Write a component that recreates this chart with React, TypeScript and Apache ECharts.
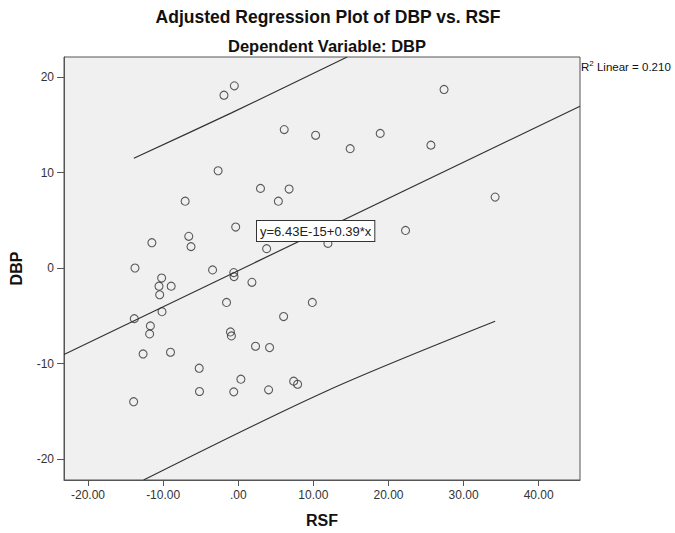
import React, { useEffect, useRef } from "react";
import * as echarts from "echarts";

// RSF (x) and DBP (y) values of the scatter points
const rsfValues = [
  -1.9, -0.52, 6.12, 10.3, -2.68, 2.96, 6.77, 5.34, -7.07, -0.34, -6.59, -6.29, -11.5, 3.78, -13.75, -3.42,
  27.4, 18.9, 14.9, 25.65, 34.2, 22.27, 11.94,
  -0.6, -0.56, -10.2, -10.55, -8.93, -10.46, 1.82, -1.56, 9.86, -10.15, -13.84, 6.04, -11.7, -11.8, -1.04, -0.91,
  -12.67, -9.02, 2.3, 4.17, -5.2, 0.35, 7.38, 7.9, -5.16, -0.6, 4.04, -13.93,
];
const dbpValues = [
  18.1, 19.08, 14.5, 13.9, 10.19, 8.34, 8.27, 7.0, 7.0, 4.29, 3.32, 2.24, 2.65, 2.03, 0.0, -0.2,
  18.7, 14.1, 12.5, 12.87, 7.43, 3.94, 2.58,
  -0.48, -0.9, -1.05, -1.9, -1.9, -2.8, -1.5, -3.6, -3.6, -4.57, -5.3, -5.08, -6.06, -6.9, -6.69, -7.11,
  -9.0, -8.82, -8.19, -8.33, -10.49, -11.64, -11.85, -12.17, -12.93, -12.97, -12.76, -14.0,
];

// Fit line and prediction interval curves
const fitLineX = [-23.2, 45.5];
const fitLineY = [-9.05, 16.95];
const upperX = [-13.9, -0.9, 14.5];
const upperY = [11.5, 16.25, 22.1];
const lowerX = [-12.6, 11.7, 34.2];
const lowerY = [-22.2, -12.9, -5.58];

const xTicks = [-20, -10, 0, 10, 20, 30, 40];
const yTicks = [-20, -10, 0, 10, 20];

const titleText = "Adjusted Regression Plot of DBP vs. RSF";
const subtitleText = "Dependent Variable: DBP";
const equationText = "y=6.43E-15+0.39*x";

const FONT = "Arial, 'Liberation Sans', sans-serif";
const INK = "#333333";

function zip(xs: number[], ys: number[]) {
  return xs.map((x, i) => [x, ys[i]]);
}

export default function App() {
  const ref = useRef<HTMLDivElement>(null);
  useEffect(() => {
    if (!ref.current) return;
    const chart = echarts.init(ref.current, null, { renderer: "svg" });
    const lineStyle = { color: INK, width: 1.2 };
    chart.setOption({
      animation: false,
      backgroundColor: "#ffffff",
      grid: {
        left: 52,
        right: 95,
        top: 57,
        bottom: 52,
        show: true,
        backgroundColor: "#f0f0f0",
        borderColor: "#555555",
        borderWidth: 1,
      },
      xAxis: {
        type: "value",
        min: -23.2,
        max: 45.5,
        name: "RSF",
        nameLocation: "middle",
        nameGap: 32,
        nameTextStyle: { fontFamily: FONT, fontWeight: "bold", fontSize: 16, color: "#111" },
        axisLine: { show: true, onZero: false, lineStyle: { color: "#555555" } },
        axisTick: { show: true, length: 6, customValues: xTicks, lineStyle: { color: "#555555" } },
        axisLabel: {
          customValues: xTicks,
          fontFamily: FONT,
          fontSize: 12,
          color: INK,
          margin: 9,
          formatter: (v: number) => (v === 0 ? ".00" : v.toFixed(2)),
        },
        splitLine: { show: false },
      },
      yAxis: {
        type: "value",
        min: -22.2,
        max: 22.1,
        name: "DBP",
        nameLocation: "middle",
        nameGap: 40,
        nameRotate: 90,
        nameTextStyle: { fontFamily: FONT, fontWeight: "bold", fontSize: 16, color: "#111" },
        axisLine: { show: true, onZero: false, lineStyle: { color: "#555555" } },
        axisTick: { show: true, length: 7, customValues: yTicks, lineStyle: { color: "#555555" } },
        axisLabel: {
          customValues: yTicks,
          fontFamily: FONT,
          fontSize: 12,
          color: INK,
          margin: 10,
        },
        splitLine: { show: false },
      },
      graphic: [
        {
          type: "text",
          x: 328,
          y: 8,
          style: {
            text: titleText,
            fontFamily: FONT,
            fontWeight: "bold",
            fontSize: 17.5,
            fill: "#111",
            textAlign: "center",
            textVerticalAlign: "top",
          },
        },
        {
          type: "text",
          x: 327,
          y: 37,
          style: {
            text: subtitleText,
            fontFamily: FONT,
            fontWeight: "bold",
            fontSize: 16.5,
            fill: "#111",
            textAlign: "center",
            textVerticalAlign: "top",
          },
        },
        {
          type: "text",
          left: 581,
          top: 59,
          style: {
            text: "{r|R}{s|2}{r| Linear = 0.210}",
            rich: {
              r: { fontFamily: FONT, fontSize: 11.5, fill: "#111", verticalAlign: "bottom", lineHeight: 14 },
              s: { fontFamily: FONT, fontSize: 8, fill: "#111", verticalAlign: "top", lineHeight: 14 },
            },
          },
        },
        {
          type: "text",
          left: 256,
          top: 220,
          z: 100,
          style: {
            text: equationText,
            fontFamily: FONT,
            fontSize: 13,
            fill: "#222",
            backgroundColor: "#ffffff",
            borderColor: "#333333",
            borderWidth: 1,
            padding: [4, 3, 3, 3],
          },
        },
      ],
      series: [
        {
          type: "line",
          data: zip(fitLineX, fitLineY),
          showSymbol: false,
          lineStyle,
          clip: true,
          silent: true,
        },
        {
          type: "line",
          data: zip(upperX, upperY),
          showSymbol: false,
          smooth: 0.3,
          lineStyle,
          clip: true,
          silent: true,
        },
        {
          type: "line",
          data: zip(lowerX, lowerY),
          showSymbol: false,
          smooth: 0.3,
          lineStyle,
          clip: true,
          silent: true,
        },
        {
          type: "scatter",
          data: zip(rsfValues, dbpValues),
          symbol: "circle",
          symbolSize: 8,
          itemStyle: { color: "rgba(0,0,0,0)", borderColor: INK, borderWidth: 1.1 },
          z: 5,
        },
      ],
    });
    return () => chart.dispose();
  }, []);
  return (
    <div
      ref={ref}
      style={{ position: "absolute", left: 0, top: 0, width: 675, height: 533 }}
    />
  );
}
